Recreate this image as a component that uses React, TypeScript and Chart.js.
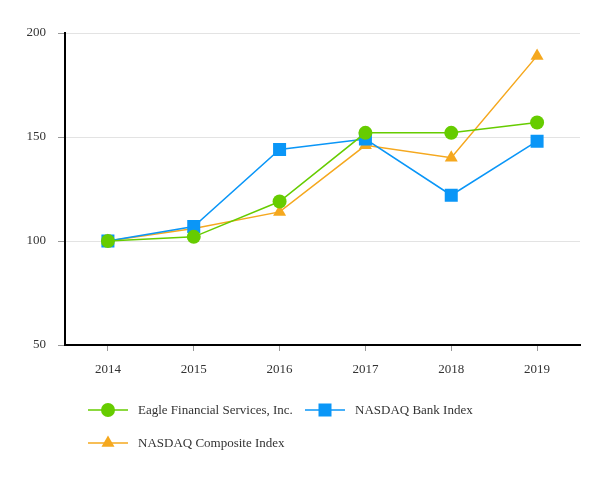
import React, { useEffect, useRef } from "react";
import { Chart, registerables } from "chart.js";

Chart.register(...registerables);

const categories = ["2014", "2015", "2016", "2017", "2018", "2019"];
const eagle = [100, 102, 119, 152, 152, 157];
const bank = [100, 107, 144, 149, 122, 148];
const composite = [100, 106, 114, 146, 140, 189];
const seriesNames = ["Eagle Financial Services, Inc.", "NASDAQ Bank Index", "NASDAQ Composite Index"];

const GREEN = "#66CC00";
const BLUE = "#0A96F7";
const ORANGE = "#F5A81E";
const FONT = "'Liberation Serif', 'Times New Roman', serif";

function drawMarker(ctx: CanvasRenderingContext2D, style: string, x: number, y: number, r: number, color: string) {
  ctx.save();
  ctx.fillStyle = color;
  ctx.beginPath();
  if (style === "circle") {
    ctx.arc(x, y, r, 0, Math.PI * 2);
  } else if (style === "rect") {
    const s = Math.SQRT1_2 * r;
    ctx.rect(x - s, y - s, 2 * s, 2 * s);
  } else {
    const h = r * 1.5;
    const w = r * Math.sqrt(3);
    ctx.moveTo(x, y - r);
    ctx.lineTo(x + w / 2, y - r + h);
    ctx.lineTo(x - w / 2, y - r + h);
    ctx.closePath();
  }
  ctx.fill();
  ctx.restore();
}

const legendPlugin = {
  id: "customLegend",
  afterDraw(chart: any) {
    const ctx = chart.ctx as CanvasRenderingContext2D;
    const items = [
      { x: 88, y: 410, color: GREEN, style: "circle", r: 7 },
      { x: 305, y: 410, color: BLUE, style: "rect", r: 9.2 },
      { x: 88, y: 443, color: ORANGE, style: "triangle", r: 7.5 },
    ];
    items.forEach((it, i) => {
      ctx.save();
      ctx.strokeStyle = it.color;
      ctx.lineWidth = 1.5;
      ctx.beginPath();
      ctx.moveTo(it.x, it.y);
      ctx.lineTo(it.x + 40, it.y);
      ctx.stroke();
      drawMarker(ctx, it.style, it.x + 20, it.y, it.r, it.color);
      ctx.fillStyle = "#333";
      ctx.font = `13px ${FONT}`;
      ctx.textBaseline = "middle";
      ctx.textAlign = "left";
      ctx.fillText(seriesNames[i], it.x + 50, it.y + 1);
      ctx.restore();
    });
  },
};

export default function App() {
  const ref = useRef<HTMLCanvasElement>(null);
  useEffect(() => {
    document.body.style.margin = "0";
    const chart = new Chart(ref.current!, {
      type: "line",
      data: {
        labels: categories,
        datasets: [
          {
            label: seriesNames[0],
            data: eagle,
            borderColor: GREEN,
            backgroundColor: GREEN,
            borderWidth: 1.5,
            pointStyle: "circle",
            pointRadius: 7,
            pointBorderWidth: 0,
          },
          {
            label: seriesNames[1],
            data: bank,
            borderColor: BLUE,
            backgroundColor: BLUE,
            borderWidth: 1.5,
            pointStyle: "rect",
            pointRadius: 9.2,
            pointBorderWidth: 0,
          },
          {
            label: seriesNames[2],
            data: composite,
            borderColor: ORANGE,
            backgroundColor: ORANGE,
            borderWidth: 1.5,
            pointStyle: "triangle",
            pointRadius: 7.5,
            pointBorderWidth: 0,
          },
        ],
      },
      options: {
        animation: false,
        responsive: false,
        layout: { padding: { left: 0, right: 33, top: 33, bottom: 0 } },
        plugins: { legend: { display: false }, tooltip: { enabled: false } },
        scales: {
          x: {
            offset: true,
            grid: { display: true, drawOnChartArea: false, tickLength: 6, tickColor: "#999", offset: false },
            border: { color: "#000", width: 2 },
            ticks: { color: "#333", font: { family: FONT, size: 13 }, padding: 11, maxRotation: 0 },
            afterFit: (s: any) => {
              s.height = 135;
            },
          },
          y: {
            min: 50,
            max: 200,
            ticks: { stepSize: 50, color: "#333", font: { family: FONT, size: 13 }, padding: 12 },
            grid: { color: "#e3e3e3", tickLength: 7, tickColor: "#999" },
            border: { color: "#000", width: 2 },
            afterFit: (s: any) => {
              s.width = 65;
            },
          },
        },
      },
      plugins: [legendPlugin],
    });
    return () => chart.destroy();
  }, []);
  return <canvas ref={ref} width={613} height={480} style={{ display: "block" }} />;
}
